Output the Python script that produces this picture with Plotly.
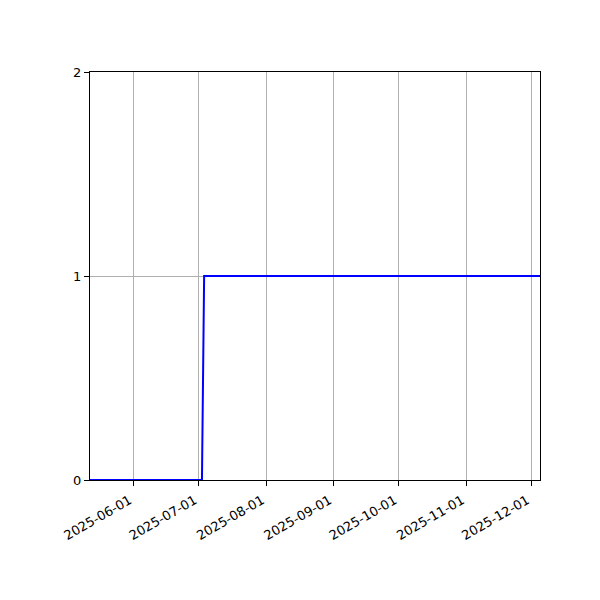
import plotly.graph_objects as go

dates = ["2025-05-12", "2025-07-02 12:00", "2025-07-03 12:00", "2025-12-05"]
values = [0, 0, 1, 1]
x_ticks = ["2025-06-01", "2025-07-01", "2025-08-01", "2025-09-01",
           "2025-10-01", "2025-11-01", "2025-12-01"]
y_ticks = [0, 1, 2]

fig = go.Figure()
fig.add_trace(go.Scatter(x=dates, y=values, mode="lines",
                         line=dict(color="#0000ff", width=2), showlegend=False))

font = dict(family="DejaVu Sans", size=13, color="black")
fig.update_layout(
    width=600, height=600,
    margin=dict(l=82, r=68, t=64, b=128),
    paper_bgcolor="white", plot_bgcolor="white",
    font=font,
    xaxis=dict(
        type="date", range=["2025-05-12", "2025-12-05"],
        tickvals=x_ticks, ticktext=x_ticks, tickangle=-30,
        ticklabelshift=-4, ticklabelstandoff=2,
        showgrid=True, gridcolor="#b0b0b0", gridwidth=1,
        showline=True, linecolor="black", linewidth=1, mirror=True,
        ticks="outside", ticklen=5, tickcolor="black", tickwidth=1,
        zeroline=False, tickfont=font,
    ),
    yaxis=dict(
        range=[0, 2], tickvals=y_ticks,
        showgrid=True, gridcolor="#b0b0b0", gridwidth=1,
        showline=True, linecolor="black", linewidth=1, mirror=True,
        ticks="outside", ticklen=5, tickcolor="black", tickwidth=1,
        zeroline=False, tickfont=font,
    ),
)
fig.write_html("out.html")
